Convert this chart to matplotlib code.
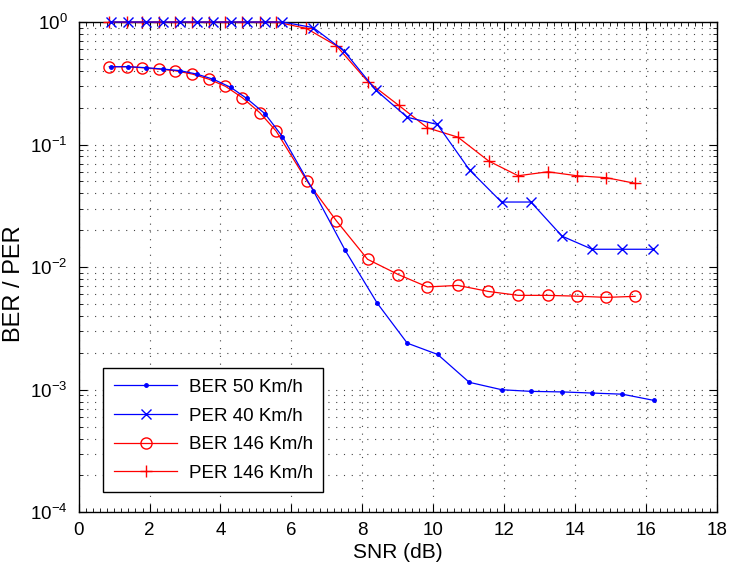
import matplotlib
matplotlib.use("Agg")
import matplotlib.pyplot as plt
from matplotlib.ticker import LogLocator, MultipleLocator, NullFormatter

plt.rcParams["font.family"] = ["Liberation Sans", "DejaVu Sans"]
plt.rcParams["mathtext.fontset"] = "custom"
plt.rcParams["mathtext.rm"] = "Liberation Sans"

# BER 50 Km/h (blue dots)
snr_ber50 = [0.90, 1.38, 1.90, 2.39, 2.86, 3.33, 3.80, 4.29, 4.74, 5.26, 5.75,
             6.62, 7.52, 8.42, 9.27, 10.13, 11.02, 11.94, 12.76, 13.64, 14.49,
             15.34, 16.22]
ber50 = [0.432, 0.432, 0.424, 0.413, 0.401, 0.376, 0.341, 0.293, 0.238, 0.178,
         0.116, 0.042, 0.0137, 0.0051, 0.0024, 0.00194, 0.00115, 0.00100,
         0.00097, 0.00096, 0.00094, 0.00092, 0.00082]

# PER 40 Km/h (blue crosses)
snr_per40 = [0.90, 1.38, 1.90, 2.39, 2.86, 3.33, 3.80, 4.29, 4.74, 5.26, 5.75,
             6.62, 7.48, 8.38, 9.27, 10.12, 11.03, 11.93, 12.76, 13.64, 14.49,
             15.34, 16.21]
per40 = [1.0, 1.0, 1.0, 1.0, 1.0, 1.0, 1.0, 1.0, 1.0, 1.0, 1.0,
         0.90, 0.583, 0.279, 0.167, 0.146, 0.062, 0.034, 0.034, 0.0179,
         0.014, 0.014, 0.014]

# BER 146 Km/h (red circles)
snr_ber146 = [0.86, 1.35, 1.79, 2.26, 2.71, 3.21, 3.68, 4.14, 4.62, 5.11, 5.57,
              6.45, 7.27, 8.15, 9.02, 9.84, 10.70, 11.56, 12.40, 13.23, 14.05,
              14.89, 15.70]
ber146 = [0.432, 0.432, 0.424, 0.413, 0.401, 0.376, 0.341, 0.299, 0.241, 0.182,
          0.129, 0.050, 0.0239, 0.0116, 0.0087, 0.0069, 0.0071, 0.00634,
          0.00589, 0.00589, 0.0058, 0.00567, 0.00578]

# PER 146 Km/h (red plus)
snr_per146 = [0.86, 1.35, 1.79, 2.26, 2.71, 3.21, 3.68, 4.14, 4.62, 5.11, 5.57,
              6.42, 7.27, 8.16, 9.03, 9.84, 10.70, 11.57, 12.40, 13.24, 14.06,
              14.89, 15.70]
per146 = [1.0, 1.0, 1.0, 1.0, 1.0, 1.0, 1.0, 1.0, 1.0, 1.0, 1.0,
          0.888, 0.641, 0.326, 0.209, 0.137, 0.115, 0.0734, 0.0557, 0.060,
          0.0557, 0.0537, 0.0483]

fig = plt.figure(figsize=(7.29, 5.69), dpi=100)
ax = fig.add_axes([0.108, 0.0996, 0.875, 0.8617])

lw = 0.9
ax.semilogy(snr_ber50, ber50, color="#0000ff", marker=".", markersize=5,
            linewidth=lw, label="BER 50 Km/h", clip_on=False, zorder=4)
ax.semilogy(snr_per40, per40, color="#0000ff", marker="x", markersize=7,
            markeredgewidth=1.0, linewidth=lw, label="PER 40 Km/h",
            clip_on=False, zorder=4)
ax.semilogy(snr_ber146, ber146, color="#ff0000", marker="o", markersize=8,
            fillstyle="none", markeredgewidth=1.0, linewidth=lw,
            label="BER 146 Km/h", clip_on=False, zorder=3)
ax.semilogy(snr_per146, per146, color="#ff0000", marker="+", markersize=9,
            markeredgewidth=1.0, linewidth=lw, label="PER 146 Km/h",
            clip_on=False, zorder=3)

ax.set_xlim(0, 18)
ax.set_ylim(1e-4, 1)
ax.xaxis.set_major_locator(MultipleLocator(2))
ax.xaxis.set_minor_locator(MultipleLocator(0.2))
ax.yaxis.set_major_locator(LogLocator(base=10, numticks=10))
ax.yaxis.set_minor_locator(LogLocator(base=10, subs=range(2, 10), numticks=10))
ax.yaxis.set_minor_formatter(NullFormatter())

# grid
dot = (0, (1, 6))
ax.grid(True, which="major", axis="x", color="#444444", linestyle=dot, linewidth=0.8)
ax.grid(True, which="both", axis="y", color="#444444", linestyle=dot, linewidth=0.8)

ax.tick_params(which="major", direction="in", length=6, width=0.8,
               top=True, right=True, labelsize=13.5)
ax.tick_params(axis="x", which="major", pad=7)
ax.tick_params(axis="y", which="major", pad=8)
ax.tick_params(which="minor", direction="in", length=3, width=0.6,
               top=True, right=True)
for sp in ax.spines.values():
    sp.set_linewidth(1.0)

ax.set_xlabel("SNR (dB)", fontsize=15, labelpad=3)
ax.set_ylabel("BER / PER", fontsize=17)
ax.yaxis.set_label_coords(-0.085, 0.467)

leg = ax.legend(loc="lower left", bbox_to_anchor=(0.0386, 0.0408),
                fontsize=13.5, fancybox=False, framealpha=1, edgecolor="black",
                handlelength=3.4, labelspacing=0.62, borderpad=0.55,
                handletextpad=0.6, borderaxespad=0)
leg.get_frame().set_linewidth(1.0)

fig.savefig("out.png", dpi=100)
